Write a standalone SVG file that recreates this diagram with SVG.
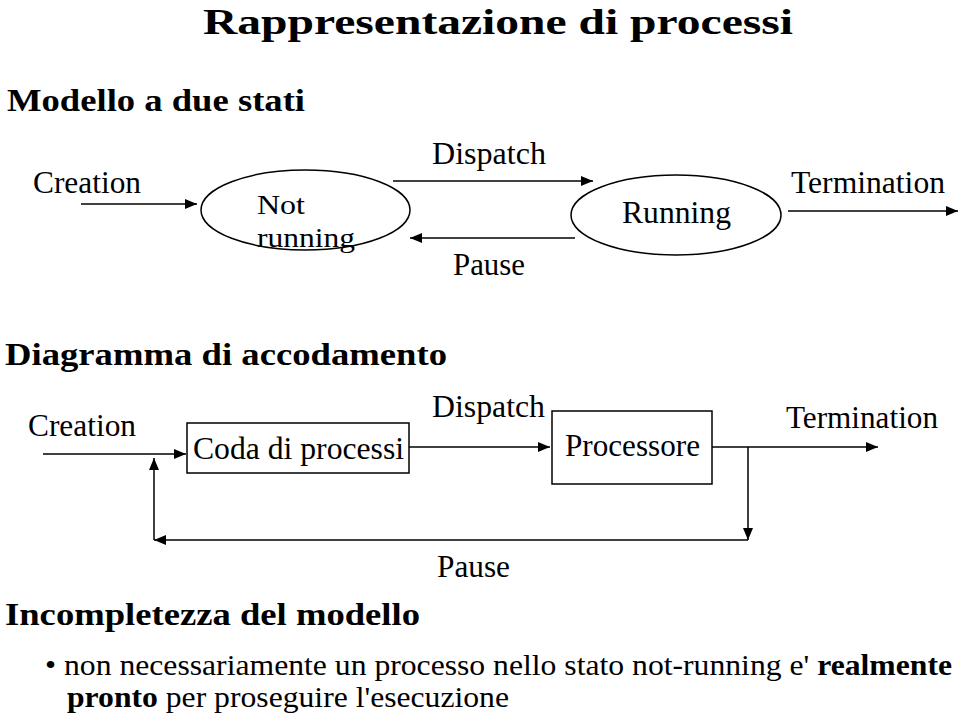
<svg xmlns="http://www.w3.org/2000/svg" width="960" height="719" viewBox="0 0 960 719">
<style>
.h{font-weight:bold;font-size:32px}
.l{font-size:31px}
.s{font-size:28px}
.b{font-size:29px}
.n{fill:none;stroke:#000;stroke-width:1.5}
.c{fill:none;stroke:#000;stroke-width:1.5}
</style>
<defs>
<marker id="a" viewBox="0 0 12 10" refX="12" refY="5" markerWidth="12" markerHeight="10" markerUnits="userSpaceOnUse" orient="auto"><path d="M0,0L12,5L0,10z" fill="#000"/></marker>
</defs>
<rect width="960" height="719" fill="#fff"/>
<g font-family="'Liberation Serif', 'Times New Roman', Times, serif" fill="#000">
<text x="203" y="34" font-weight="bold" font-size="36" textLength="590" lengthAdjust="spacingAndGlyphs">Rappresentazione di processi</text>
<text class="h" x="7" y="111" textLength="298" lengthAdjust="spacingAndGlyphs">Modello a due stati</text>
<text class="h" x="5" y="365" textLength="442" lengthAdjust="spacingAndGlyphs">Diagramma di accodamento</text>
<text class="h" x="5" y="625" textLength="415" lengthAdjust="spacingAndGlyphs">Incompletezza del modello</text>
<g id="not-running">
<ellipse class="n" cx="305.5" cy="210" rx="104.5" ry="40"/>
<text class="s" x="257" y="214" textLength="48" lengthAdjust="spacingAndGlyphs">Not</text>
<text class="s" x="257" y="247" textLength="98" lengthAdjust="spacingAndGlyphs">running</text>
</g>
<g id="running">
<ellipse class="n" cx="676" cy="215" rx="105" ry="40"/>
<text class="l" x="622" y="223" textLength="109" lengthAdjust="spacingAndGlyphs">Running</text>
</g>
<g id="coda">
<rect class="n" x="187" y="423" width="222" height="50"/>
<text class="l" x="193" y="459" textLength="211" lengthAdjust="spacingAndGlyphs">Coda di processi</text>
</g>
<g id="processore">
<rect class="n" x="552" y="411" width="160" height="73"/>
<text class="l" x="565" y="456" textLength="135" lengthAdjust="spacingAndGlyphs">Processore</text>
</g>
<g id="connectors">
<line class="c" x1="81" y1="204" x2="197" y2="204" marker-end="url(#a)"/>
<line class="c" x1="393" y1="181" x2="593" y2="181" marker-end="url(#a)"/>
<line class="c" x1="575" y1="238" x2="410" y2="238" marker-end="url(#a)"/>
<line class="c" x1="788" y1="211" x2="958" y2="211" marker-end="url(#a)"/>
<line class="c" x1="43" y1="454" x2="186" y2="454" marker-end="url(#a)"/>
<line class="c" x1="409" y1="447" x2="550" y2="447" marker-end="url(#a)"/>
<line class="c" x1="712" y1="447" x2="878" y2="447" marker-end="url(#a)"/>
<line class="c" x1="748" y1="447" x2="748" y2="540" marker-end="url(#a)"/>
<line class="c" x1="748" y1="540" x2="154" y2="540" marker-end="url(#a)"/>
<line class="c" x1="154" y1="540" x2="154" y2="458" marker-end="url(#a)"/>
<text class="l" x="33" y="193" textLength="108" lengthAdjust="spacingAndGlyphs">Creation</text>
<text class="l" x="432" y="164" textLength="114" lengthAdjust="spacingAndGlyphs">Dispatch</text>
<text class="l" x="453" y="275" textLength="72" lengthAdjust="spacingAndGlyphs">Pause</text>
<text class="l" x="791" y="193" textLength="154" lengthAdjust="spacingAndGlyphs">Termination</text>
<text class="l" x="28" y="436" textLength="108" lengthAdjust="spacingAndGlyphs">Creation</text>
<text class="l" x="432" y="417" textLength="113" lengthAdjust="spacingAndGlyphs">Dispatch</text>
<text class="l" x="786" y="428" textLength="152" lengthAdjust="spacingAndGlyphs">Termination</text>
<text class="l" x="437" y="577" textLength="73" lengthAdjust="spacingAndGlyphs">Pause</text>
</g>
<text class="b" x="45" y="675" textLength="907" lengthAdjust="spacingAndGlyphs">• non necessariamente un processo nello stato not-running e' <tspan font-weight="bold">realmente</tspan></text>
<text class="b" x="67" y="707" textLength="442" lengthAdjust="spacingAndGlyphs"><tspan font-weight="bold">pronto</tspan> per proseguire l'esecuzione</text>
</g>
</svg>
